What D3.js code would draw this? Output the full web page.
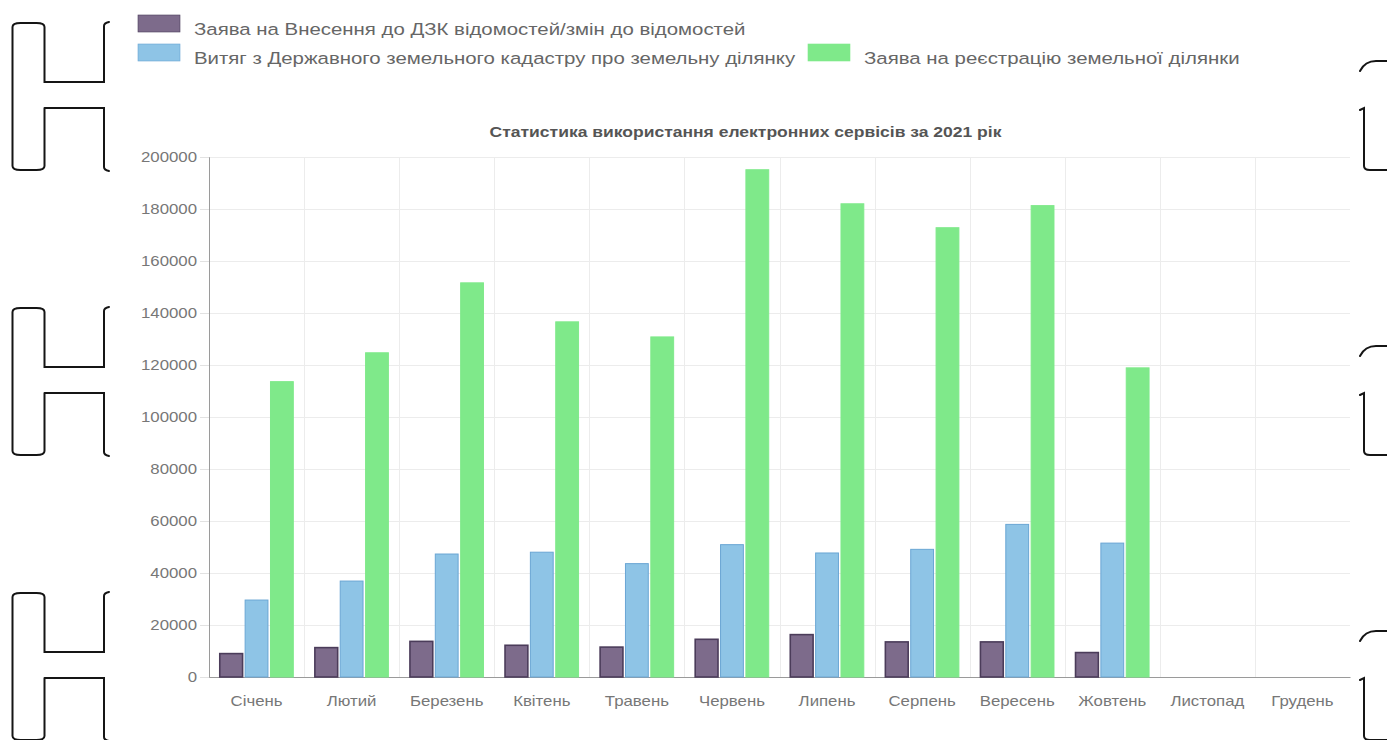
<!DOCTYPE html>
<html lang="uk">
<head>
<meta charset="utf-8">
<title>Статистика використання електронних сервісів за 2021 рік</title>
<script src="https://cdn.jsdelivr.net/npm/d3@7"></script>
<style>
  html, body { margin: 0; padding: 0; background: #fff; }
  svg { display: block; font-family: "Liberation Sans", Arial, sans-serif; }
</style>
</head>
<body>
<svg id="chart" width="1387" height="740"></svg>
<script>
// Місяці року
const months = ["Січень", "Лютий", "Березень", "Квітень", "Травень", "Червень",
                "Липень", "Серпень", "Вересень", "Жовтень", "Листопад", "Грудень"];

// Назви серій
const seriesNames = [
  "Заява на Внесення до ДЗК відомостей/змін до відомостей",
  "Витяг з Державного земельного кадастру про земельну ділянку",
  "Заява на реєстрацію земельної ділянки"
];

// Кількість звернень по місяцях (листопад і грудень — без даних)
const changesRequests = [9000, 11300, 13700, 12200, 11500, 14500, 16300, 13500, 13500, 9400, 0, 0];
const cadastreExtracts = [29600, 36900, 47300, 48000, 43600, 50900, 47700, 49100, 58700, 51500, 0, 0];
const registrationRequests = [113600, 124700, 151600, 136600, 130800, 195100, 182000, 172800, 181300, 118900, 0, 0];

// Позначки осі Y
const yTicks = [0, 20000, 40000, 60000, 80000, 100000, 120000, 140000, 160000, 180000, 200000];

const chartTitle = "Статистика використання електронних сервісів за 2021 рік";

const seriesValues = [changesRequests, cadastreExtracts, registrationRequests];
const fills   = ["#7d6b8b", "#8ec4e6", "#7fe98a"];
const strokes = ["#4b3c5a", "#6aa6d4", "#7fe98a"];

// Горизонтальне розтягнення підписів
const SX = 1.2;

const svg = d3.select("#chart");

// ---- Декоративні елементи по краях ----
const deco = svg.append("g").attr("fill", "none").attr("stroke", "#151515")
  .attr("stroke-width", 2).attr("stroke-linecap", "round");

function leftOrnament(T) {
  const B = T + 147, H1 = T + 59, H2 = T + 85;
  const xl = 12.5, xi = 44.5, xr = 104;
  return [
    `M${xl},${B - 4} L${xl},${T + 4} Q${xl},${T} ${xl + 8},${T} L${xi - 8},${T} Q${xi},${T} ${xi},${T + 4}`,
    `L${xi},${H1} L${xr},${H1} L${xr},${T + 3} Q${xr},${T} ${xr + 5},${T - 1}`,
    `M${xi},${H2} L${xr},${H2} L${xr},${B - 3} Q${xr},${B} ${xr + 5},${B + 1}`,
    `M${xi},${H2} L${xi},${B - 4} Q${xi},${B} ${xi - 8},${B} L${xl + 8},${B} Q${xl},${B} ${xl},${B - 4}`
  ].join(" ");
}
function rightOrnament(T) {
  return [
    `M1360,${T + 10} Q1365,${T} 1376,${T} L1390,${T}`,
    `M1360,${T + 49} L1364,${T + 47} L1364,${T + 105} Q1364,${T + 109} 1370,${T + 109} L1390,${T + 109}`
  ].join(" ");
}
[23, 308, 593].forEach(T => deco.append("path").attr("d", leftOrnament(T)));
[61, 346, 631].forEach(T => deco.append("path").attr("d", rightOrnament(T)));

// ---- Легенда ----
const legend = svg.append("g").attr("font-size", 17).attr("fill", "#666");
const legendItems = [
  { i: 0, x: 138, y: 15 },
  { i: 1, x: 138, y: 44 },
  { i: 2, x: 808, y: 44 }
];
legendItems.forEach(d => {
  legend.append("rect")
    .attr("x", d.x).attr("y", d.y).attr("width", 42).attr("height", 17)
    .attr("fill", fills[d.i]).attr("stroke", d.i === 2 ? fills[2] : strokes[d.i]).attr("stroke-width", 0.6);
  legend.append("text")
    .attr("transform", `translate(${d.x + 56},${d.y + 20}) scale(${SX},1)`)
    .text(seriesNames[d.i]);
});

// ---- Графік ----
const plot = { left: 209, right: 1350, top: 157, bottom: 677 };

const x = d3.scaleBand().domain(months).range([plot.left, plot.right]).paddingInner(0).paddingOuter(0);
const y = d3.scaleLinear().domain([0, 200000]).range([plot.bottom, plot.top]);
const xs = d3.scaleBand().domain(d3.range(seriesValues.length))
  .range([x.bandwidth() * 0.1, x.bandwidth() * 0.9]).paddingInner(0.1).paddingOuter(0.05);

// Назва
svg.append("text")
  .attr("transform", `translate(${(plot.left + plot.right) / 2 - 34},137) scale(${SX},1)`)
  .attr("text-anchor", "middle").attr("font-size", 14.6).attr("font-weight", "bold")
  .attr("fill", "#555").text(chartTitle);

// Сітка
const grid = svg.append("g").attr("stroke", "#ececec").attr("stroke-width", 1);
grid.selectAll("line.h").data(yTicks.slice(1)).join("line")
  .attr("x1", plot.left).attr("x2", plot.right)
  .attr("y1", d => Math.round(y(d)) + 0.5).attr("y2", d => Math.round(y(d)) + 0.5);
grid.selectAll("line.v").data(months.slice(1)).join("line")
  .attr("x1", d => Math.round(x(d)) + 0.5).attr("x2", d => Math.round(x(d)) + 0.5)
  .attr("y1", plot.top).attr("y2", plot.bottom);

// Вісь Y
const yAxis = svg.append("g").attr("transform", `translate(${plot.left},0)`)
  .call(d3.axisLeft(y).tickValues(yTicks).tickSize(9).tickPadding(4).tickFormat(d3.format("d")));
yAxis.select(".domain").attr("stroke", "#9a9a9a");
yAxis.selectAll(".tick line").attr("stroke", "#e2e2e2");
yAxis.selectAll(".tick text").attr("fill", "#777").attr("font-size", 14)
  .attr("font-family", "'Liberation Sans', Arial, sans-serif")
  .attr("x", -12 / SX).attr("transform", `scale(${SX},1)`);

// Вісь X
const xAxis = svg.append("g").attr("transform", `translate(0,${plot.bottom})`)
  .call(d3.axisBottom(x).tickSize(0).tickPadding(19));
xAxis.select(".domain").attr("stroke", "#9a9a9a");
xAxis.selectAll(".tick text").attr("fill", "#777").attr("font-size", 14)
  .attr("font-family", "'Liberation Sans', Arial, sans-serif")
  .attr("transform", `scale(${SX},1)`);

// Стовпці
const groups = svg.append("g").selectAll("g.month").data(months).join("g")
  .attr("transform", d => `translate(${x(d)},0)`);
seriesValues.forEach((vals, s) => {
  groups.append("rect")
    .attr("x", xs(s)).attr("width", xs.bandwidth())
    .attr("y", (d, i) => y(vals[i]))
    .attr("height", (d, i) => y(0) - y(vals[i]))
    .attr("fill", fills[s])
    .attr("stroke", strokes[s])
    .attr("stroke-width", s === 0 ? 1.6 : 1)
    .style("display", (d, i) => vals[i] > 0 ? null : "none");
});
</script>
</body>
</html>
